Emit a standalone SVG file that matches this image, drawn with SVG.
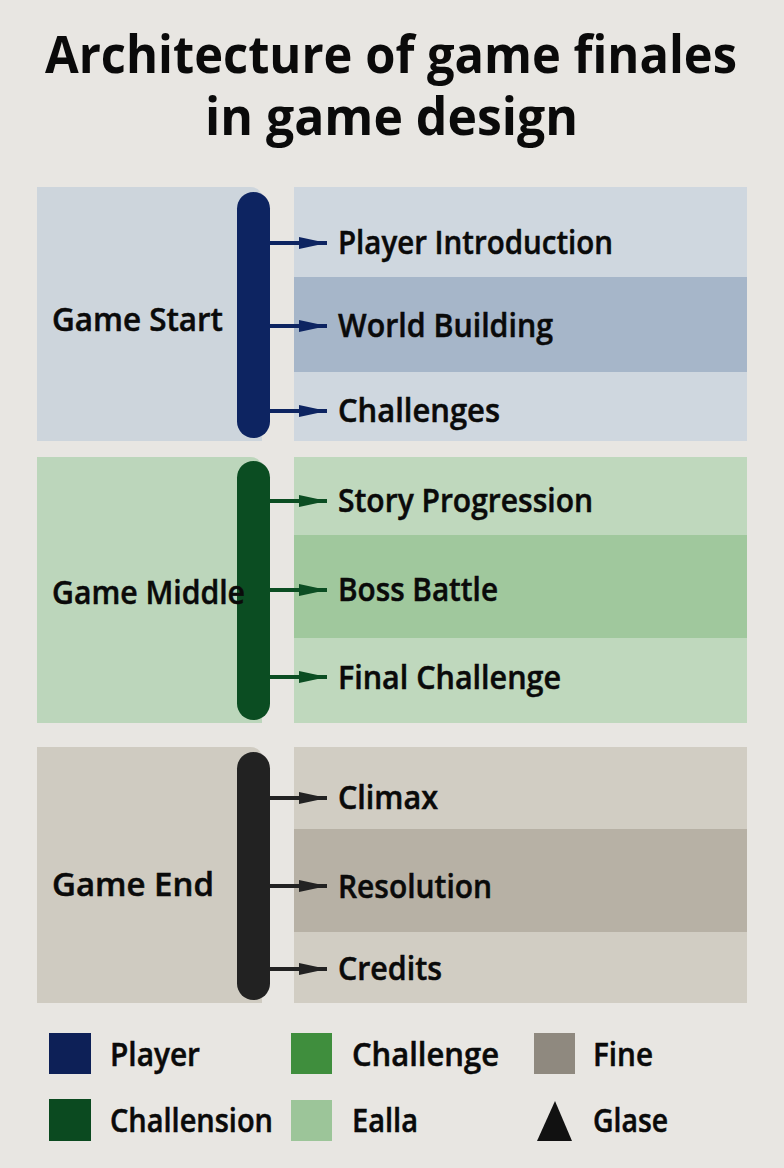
<svg xmlns="http://www.w3.org/2000/svg" width="784" height="1168" viewBox="0 0 784 1168">
<defs>
<style>
.title{font-family:"Open Sans","Liberation Sans",sans-serif;font-weight:700;font-size:52px;fill:#0a0a0a}
.lbl{font-family:"Open Sans","Liberation Sans",sans-serif;font-weight:600;font-size:32px;fill:#0a0a0a;stroke:#0a0a0a;stroke-width:0.5}
.leg{font-family:"Open Sans","Liberation Sans",sans-serif;font-weight:600;font-size:32px;fill:#0a0a0a;stroke:#0a0a0a;stroke-width:0.5}
</style>
<marker id="hNavy" viewBox="0 0 28 12" refX="28" refY="6" markerWidth="28" markerHeight="12" markerUnits="userSpaceOnUse" orient="auto"><path d="M0,0L28,6L0,12z" fill="#0d2461"/></marker>
<marker id="hGreen" viewBox="0 0 28 12" refX="28" refY="6" markerWidth="28" markerHeight="12" markerUnits="userSpaceOnUse" orient="auto"><path d="M0,0L28,6L0,12z" fill="#0b4d22"/></marker>
<marker id="hBlack" viewBox="0 0 28 12" refX="28" refY="6" markerWidth="28" markerHeight="12" markerUnits="userSpaceOnUse" orient="auto"><path d="M0,0L28,6L0,12z" fill="#222"/></marker>
</defs>
<rect width="784" height="1168" fill="#e8e6e2"/>
<g id="title">
<text class="title" x="45" y="73" textLength="692" lengthAdjust="spacingAndGlyphs">Architecture of game finales</text>
<text class="title" x="205" y="135" textLength="373" lengthAdjust="spacingAndGlyphs">in game design</text>
</g>
<!-- Section 1 -->
<g id="game-start">
<path d="M37,187 H250 Q262,187 262,199 V441 H37 Z" fill="#cdd5dc"/>
<text class="lbl" x="52" y="331" textLength="171" lengthAdjust="spacingAndGlyphs">Game Start</text>
</g>
<g id="start-rows">
<rect x="294" y="187" width="453" height="90" fill="#cfd7df"/>
<rect x="294" y="277" width="453" height="95" fill="#a6b6c9"/>
<rect x="294" y="372" width="453" height="69" fill="#cfd7df"/>
</g>
<g id="player-introduction"><text class="lbl" x="338" y="254" textLength="275" lengthAdjust="spacingAndGlyphs">Player Introduction</text></g>
<g id="world-building"><text class="lbl" x="338" y="337" textLength="215" lengthAdjust="spacingAndGlyphs">World Building</text></g>
<g id="challenges"><text class="lbl" x="338" y="422" textLength="162" lengthAdjust="spacingAndGlyphs">Challenges</text></g>
<!-- Section 2 -->
<g id="game-middle">
<path d="M37,457 H250 Q262,457 262,469 V723 H37 Z" fill="#bcd6bb"/>
</g>
<g id="middle-rows">
<rect x="294" y="457" width="453" height="78" fill="#bfd8bd"/>
<rect x="294" y="535" width="453" height="103" fill="#a0c89d"/>
<rect x="294" y="638" width="453" height="85" fill="#bfd8bd"/>
</g>
<g id="story-progression"><text class="lbl" x="338" y="512" textLength="255" lengthAdjust="spacingAndGlyphs">Story Progression</text></g>
<g id="boss-battle"><text class="lbl" x="338" y="601" textLength="160" lengthAdjust="spacingAndGlyphs">Boss Battle</text></g>
<g id="final-challenge"><text class="lbl" x="338" y="689" textLength="223" lengthAdjust="spacingAndGlyphs">Final Challenge</text></g>
<!-- Section 3 -->
<g id="game-end">
<path d="M37,747 H250 Q262,747 262,759 V1003 H37 Z" fill="#cfcbc1"/>
<text class="lbl" x="52" y="896" textLength="162" lengthAdjust="spacingAndGlyphs">Game End</text>
</g>
<g id="end-rows">
<rect x="294" y="747" width="453" height="82" fill="#d1cdc3"/>
<rect x="294" y="829" width="453" height="103" fill="#b7b1a5"/>
<rect x="294" y="932" width="453" height="71" fill="#d1cdc3"/>
</g>
<g id="climax"><text class="lbl" x="338" y="809" textLength="100" lengthAdjust="spacingAndGlyphs">Climax</text></g>
<g id="resolution"><text class="lbl" x="338" y="898" textLength="154" lengthAdjust="spacingAndGlyphs">Resolution</text></g>
<g id="credits"><text class="lbl" x="338" y="980" textLength="104" lengthAdjust="spacingAndGlyphs">Credits</text></g>
<!-- connectors -->
<g id="connectors" stroke-width="4" fill="none">
<rect x="237" y="192" width="33" height="246" rx="16.5" fill="#0d2461" stroke="none"/>
<rect x="237" y="461" width="33" height="259" rx="16.5" fill="#0b4d22" stroke="none"/>
<rect x="237" y="752" width="33" height="248" rx="16.5" fill="#222" stroke="none"/>
<g stroke="#0d2461" marker-end="url(#hNavy)">
<line x1="270" y1="243" x2="327" y2="243"/>
<line x1="270" y1="326" x2="327" y2="326"/>
<line x1="270" y1="411" x2="327" y2="411"/>
</g>
<g stroke="#0b4d22" marker-end="url(#hGreen)">
<line x1="270" y1="501" x2="327" y2="501"/>
<line x1="270" y1="590" x2="327" y2="590"/>
<line x1="270" y1="677" x2="327" y2="677"/>
</g>
<g stroke="#222" marker-end="url(#hBlack)">
<line x1="270" y1="798" x2="327" y2="798"/>
<line x1="270" y1="886" x2="327" y2="886"/>
<line x1="270" y1="969" x2="327" y2="969"/>
</g>
</g>
<g id="game-middle-label"><text class="lbl" x="52" y="604" textLength="193" lengthAdjust="spacingAndGlyphs">Game Middle</text></g>
<!-- legend -->
<g id="legend">
<rect x="49" y="1033" width="42" height="41" fill="#0d2057"/>
<text class="leg" x="110" y="1066" textLength="90" lengthAdjust="spacingAndGlyphs">Player</text>
<rect x="291" y="1033" width="41" height="41" fill="#3f8e3d"/>
<text class="leg" x="352" y="1066" textLength="147" lengthAdjust="spacingAndGlyphs">Challenge</text>
<rect x="534" y="1033" width="41" height="41" fill="#8f897f"/>
<text class="leg" x="593" y="1066" textLength="60" lengthAdjust="spacingAndGlyphs">Fine</text>
<rect x="49" y="1099" width="42" height="42" fill="#0b4a20"/>
<text class="leg" x="110" y="1132" textLength="163" lengthAdjust="spacingAndGlyphs">Challension</text>
<rect x="291" y="1100" width="41" height="41" fill="#9cc599"/>
<text class="leg" x="352" y="1132" textLength="66" lengthAdjust="spacingAndGlyphs">Ealla</text>
<polygon points="555,1101 572,1141 537,1141" fill="#111"/>
<text class="leg" x="593" y="1132" textLength="75" lengthAdjust="spacingAndGlyphs">Glase</text>
</g>
</svg>
